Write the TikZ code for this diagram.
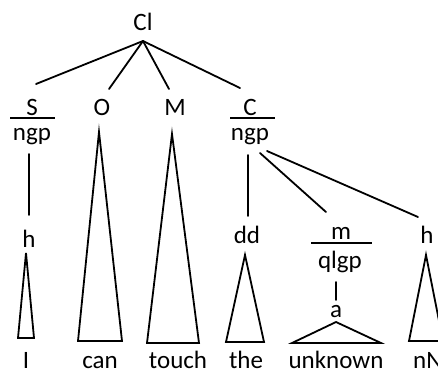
\documentclass[tikz,border=0pt]{standalone}
\usepackage{fontspec}
\setmainfont{Carlito}
\begin{document}
\begin{tikzpicture}[x=1pt,y=-1pt,
  lbl/.style={anchor=base,inner sep=0pt,font=\fontsize{25}{30}\selectfont},
  ln/.style={line width=1.8pt,line cap=round},
  bar/.style={line width=1.8pt},
  tri/.style={line width=1.8pt,line join=miter}]
\useasboundingbox (0,0) rectangle (438,373);
\clip (0,0) rectangle (438,373);

% category labels
\node[lbl] (cl) at (143,30) {Cl};
\node[lbl] (s) at (32,115) {S};
\node[lbl] (sngp) at (32,140) {ngp};
\node[lbl] (o) at (102,115) {O};
\node[lbl] (mm) at (175,115) {M};
\node[lbl] (c) at (250,115) {C};
\node[lbl] (cngp) at (250,140) {ngp};
\node[lbl] (h1) at (29,247) {h};
\node[lbl] (dd) at (247,243) {dd};
\node[lbl] (m) at (341,239) {m};
\node[lbl] (qlgp) at (340,268) {qlgp};
\node[lbl] (a) at (336,317) {a};
\node[lbl] (h2) at (427,243) {h};

% words
\node[lbl] (wI) at (26,368) {I};
\node[lbl] (wcan) at (100,368) {can};
\node[lbl] (wtouch) at (178,368) {touch};
\node[lbl] (wthe) at (246,368) {the};
\node[lbl] (wunk) at (336,368) {unknown};
\node[lbl,anchor=base west] (wnn) at (413,368) {nN};

% connector end points
\coordinate (clfoot) at (143,41);
\coordinate (stop) at (36,84);
\coordinate (otop) at (109,89);
\coordinate (mtop) at (169,89);
\coordinate (ctop) at (240,88);
\coordinate (sfoot) at (29,154);
\coordinate (h1top) at (29,215);
\coordinate (cfoot1) at (248,155);
\coordinate (ddtop) at (248,216);
\coordinate (cfoot2) at (260,153);
\coordinate (mtop2) at (326,212);
\coordinate (cfoot3) at (267,151);
\coordinate (h2top) at (418,217);
\coordinate (qfoot) at (336,282);
\coordinate (atop) at (336,300);

% branches
\draw[ln] (clfoot) -- (stop);
\draw[ln] (clfoot) -- (otop);
\draw[ln] (clfoot) -- (mtop);
\draw[ln] (clfoot) -- (ctop);
\draw[ln] (sfoot) -- (h1top);
\draw[ln] (cfoot1) -- (ddtop);
\draw[ln] (cfoot2) -- (mtop2);
\draw[ln] (cfoot3) -- (h2top);
\draw[ln] (qfoot) -- (atop);

% function/class bars
\draw[bar] (10,118) -- (55,118);
\draw[bar] (230,118) -- (275,118);
\draw[bar] (311,243) -- (372,243);

% triangles
\draw[tri] (26,253) -- (34,338) -- (18,338) -- cycle;
\draw[tri] (99,132) -- (122,341) -- (78,341) -- cycle;
\draw[tri] (172,134) -- (199,343) -- (147,343) -- cycle;
\draw[tri] (245,255) -- (264,342) -- (226,342) -- cycle;
\draw[tri] (336,322) -- (381,343) -- (292,343) -- cycle;
\draw[tri] (426,255) -- (443,341) -- (409,341) -- cycle;
\end{tikzpicture}
\end{document}
